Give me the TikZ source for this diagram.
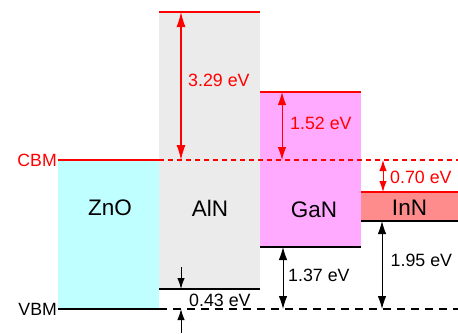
\documentclass[tikz,border=0pt]{standalone}
\usepackage{fontspec}
\setmainfont{Liberation Sans}
\usetikzlibrary{arrows.meta}
\definecolor{znoc}{HTML}{C0FFFF}
\definecolor{alnc}{HTML}{EBEBEB}
\definecolor{ganc}{HTML}{FFAAFF}
\definecolor{innc}{HTML}{FF8C8C}
\definecolor{cbmred}{HTML}{FF0000}
\tikzset{
  level/.style={line width=1.6pt},
  cbmline/.style={level, draw=cbmred},
  vbmline/.style={level, draw=black},
  cbmdash/.style={line width=1.2pt, draw=cbmred, dash pattern=on 5pt off 4pt},
  vbmdash/.style={line width=1.2pt, draw=black, dash pattern=on 8pt off 6pt},
  gaparrow/.style={line width=1pt, {Latex[length=13pt,width=8.5pt]}-{Latex[length=13pt,width=8.5pt]}},
  biggap/.style={line width=1.1pt, {Latex[length=15pt,width=9pt]}-{Latex[length=15pt,width=9pt]}},
  smallgap/.style={line width=1pt, {Latex[length=11pt,width=7.5pt]}-{Latex[length=11pt,width=7.5pt]}},
  onearrow/.style={line width=1pt, -{Latex[length=11pt,width=7.5pt]}},
  evlabel/.style={anchor=west, inner sep=0pt, font=\fontsize{17.8}{20}\selectfont},
  matlabel/.style={inner sep=0pt, font=\fontsize{22.5}{26}\selectfont},
  sidelabel/.style={anchor=east, inner sep=0pt, font=\fontsize{17.7}{20}\selectfont},
}
\begin{document}
\begin{tikzpicture}[x=1pt,y=-1pt]
\useasboundingbox (0,0) rectangle (458,333);
% boxes
\fill[znoc] (58,160) rectangle (159,309);
\fill[alnc] (159,12) rectangle (260,289);
\fill[ganc] (260,92) rectangle (361,247);
\fill[innc] (361,192) rectangle (458,221);
% coordinates
\coordinate (zl) at (58,160);
\coordinate (zr) at (159,160);
\coordinate (cbmend) at (458,160);
\coordinate (zvl) at (58,309);
\coordinate (zvr) at (159,309);
\coordinate (vbmend) at (458,309);
\coordinate (atl) at (159,12);
\coordinate (atr) at (260,12);
\coordinate (abl) at (159,289);
\coordinate (abr) at (260,289);
\coordinate (gtl) at (260,92);
\coordinate (gtr) at (361,92);
\coordinate (gbl) at (260,247);
\coordinate (gbr) at (361,247);
\coordinate (itl) at (361,192);
\coordinate (itr) at (458,192);
\coordinate (ibl) at (361,221);
\coordinate (ibr) at (458,221);
% dashed reference lines
\draw[cbmdash] (zr) -- (cbmend);
\draw[vbmdash] (zvr) -- (vbmend);
% band edges
\draw[cbmline] (zl) -- (zr);
\draw[vbmline] (zvl) -- (zvr);
\draw[cbmline] (atl) -- (atr);
\draw[vbmline] (abl) -- (abr);
\draw[cbmline] (gtl) -- (gtr);
\draw[vbmline] (gbl) -- (gbr);
\draw[cbmline] (itl) -- (itr);
\draw[vbmline] (ibl) -- (ibr);
% arrow end points
\coordinate (a1t) at (181,12);
\coordinate (a1b) at (181,160);
\coordinate (a2t) at (282,92);
\coordinate (a2b) at (282,160);
\coordinate (a3t) at (383,160);
\coordinate (a3b) at (383,192);
\coordinate (a4s) at (181,267);
\coordinate (a4e) at (181,289);
\coordinate (a5s) at (181,333);
\coordinate (a5e) at (181,309);
\coordinate (a6t) at (283,247);
\coordinate (a6b) at (283,309);
\coordinate (a7t) at (382,221);
\coordinate (a7b) at (382,309);
\draw[biggap, cbmred] (a1t) -- (a1b);
\draw[gaparrow, cbmred] (a2t) -- (a2b);
\draw[smallgap, cbmred] (a3t) -- (a3b);
\draw[onearrow] (a4s) -- (a4e);
\draw[onearrow] (a5s) -- (a5e);
\draw[gaparrow] (a6t) -- (a6b);
\draw[gaparrow] (a7t) -- (a7b);
% labels
\node[evlabel, text=cbmred] (l1) at (188,80) {3.29 eV};
\node[evlabel, text=cbmred] (l2) at (290,123.5) {1.52 eV};
\node[evlabel, text=cbmred] (l3) at (390,177) {0.70 eV};
\node[evlabel] (l4) at (189,300) {0.43 eV};
\node[evlabel] (l5) at (288,275) {1.37 eV};
\node[evlabel] (l6) at (390.5,260) {1.95 eV};
\node[matlabel] (m1) at (110,208) {ZnO};
\node[matlabel] (m2) at (210,208) {AlN};
\node[matlabel] (m3) at (314,209.5) {GaN};
\node[matlabel] (m4) at (409.5,208) {InN};
\node[sidelabel, text=cbmred] (cbm) at (57,160) {CBM};
\node[sidelabel] (vbm) at (57,309) {VBM};
\end{tikzpicture}
\end{document}
